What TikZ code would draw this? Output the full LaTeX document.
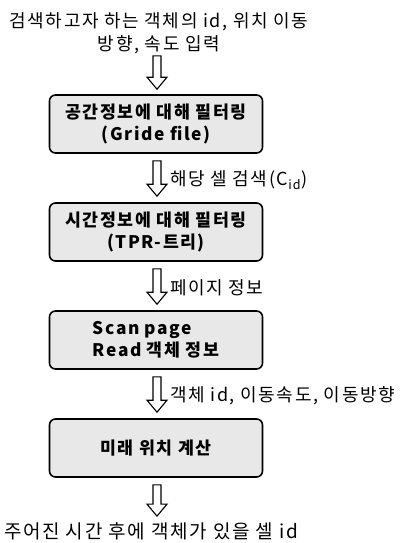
\documentclass[tikz,border=0pt]{standalone}
\usepackage{fontspec}
\setmainfont{Noto Sans CJK KR}[LetterSpace=9]
\usetikzlibrary{calc}
\newcommand\hollowarrow[2]{%
  \draw[harrow] let \p1=(#1), \p2=(#2) in
    (\x1-4pt,\y1) -- (\x1+4pt,\y1) -- (\x1+4pt,\y2+12pt) -- (\x1+10pt,\y2+12pt)
    -- (\x1,\y2) -- (\x1-10pt,\y2+12pt) -- (\x1-4pt,\y2+12pt) -- cycle;}
\begin{document}
\begin{tikzpicture}[x=1pt,y=-1pt,
  stepbox/.style={draw, line width=1.6pt, rounded corners=6pt, fill=gray!18,
    minimum width=213pt, minimum height=58pt, inner sep=0pt,
    font=\bfseries\fontsize{17.3}{22}\selectfont, align=center},
  txt/.style={font=\fontsize{18}{23}\selectfont, align=center, inner sep=0pt},
  lbl/.style={font=\fontsize{18}{21}\selectfont, anchor=west, inner sep=0pt},
  harrow/.style={draw, line width=1.1pt, fill=white, line join=miter}]
\useasboundingbox (0,0) rectangle (400,543);
\node[txt] (in) at (159,33) {검색하고자 하는 객체의 id, 위치 이동\\방향, 속도 입력};
\node[stepbox] (b1) at (156,124) {공간정보에 대해 필터링\\(Gride file)};
\node[stepbox] (b2) at (156,232) {시간정보에 대해 필터링\\(TPR-트리)};
\node[stepbox, align=left] (b3) at (156,340) {Scan page\\Read 객체 정보};
\node[stepbox] (b4) at (156,448) {미래 위치 계산};
\node[txt, font=\fontsize{19}{23}\selectfont] (out) at (151,531) {주어진 시간 후에 객체가 있을 셀 id};
\hollowarrow{$(in.south)+(-2,2)$}{$(b1.north)+(0,-5)$}
\hollowarrow{$(b1.south)+(1,7)$}{$(b2.north)+(1,-6)$}
\hollowarrow{$(b2.south)+(1,7)$}{$(b3.north)+(1,-6)$}
\hollowarrow{$(b3.south)+(1,7)$}{$(b4.north)+(1,-6)$}
\hollowarrow{$(b4.south)+(1,7)$}{$(out.north)+(6,-6)$}
\node[lbl] (l1) at (170,180) {해당 셀 검색(C\textsubscript{id})};
\node[lbl] (l2) at (170,288) {페이지 정보};
\node[lbl] (l3) at (170,396) {객체 id, 이동속도, 이동방향};
\end{tikzpicture}
\end{document}
